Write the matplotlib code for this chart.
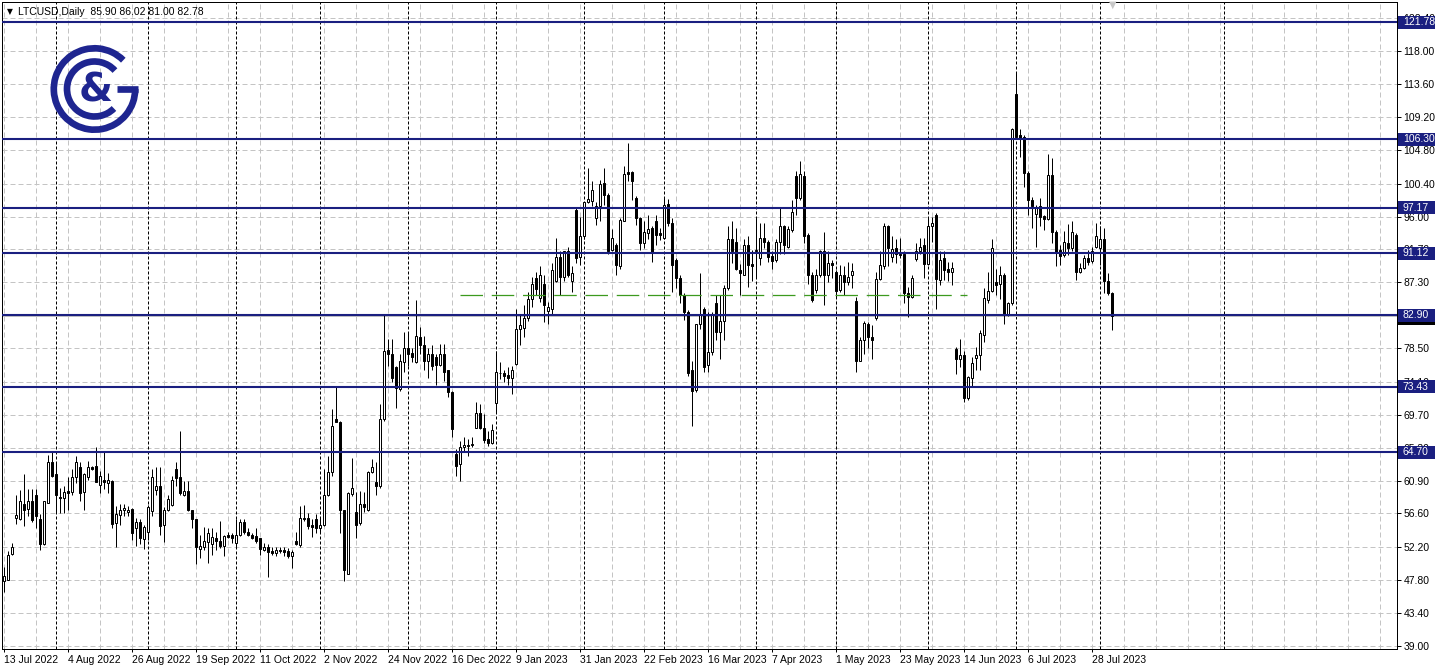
"""
plot.py

LTCUSD daily candles (MT4 style) with horizontal support/resistance levels.
"""

import numpy as np
import pandas as pd
import matplotlib
matplotlib.use("Agg")
import matplotlib.pyplot as plt
from matplotlib.patches import Rectangle, Arc

plt.rcParams["font.family"] = ["Liberation Sans Narrow", "Liberation Sans", "DejaVu Sans"]

# Figure geometry (pixels)

W, H = 1438, 669
NAVY = "#1a1f80"
LOGO = "#1e2590"
GRID = "#c4c4c4"
FS = 7.5

# Data

first_day = "2022-07-13"

opens = [
    47.6, 47.8, 51.2, 56.0, 55.9, 57.9, 57.2, 58.2, 59.0, 55.9,
    52.6, 58.0, 63.4, 61.8, 58.8, 58.6, 59.6, 59.4, 61.5, 62.8,
    59.4, 61.5, 62.7, 62.9, 60.4, 61.1, 60.6, 60.9, 55.3, 56.4,
    57.0, 56.8, 57.2, 54.6, 55.4, 53.2, 54.1, 56.9, 59.7, 60.2,
    55.0, 57.0, 57.7, 62.5, 61.4, 59.1, 59.6, 57.0, 55.9, 51.9,
    52.1, 52.8, 52.6, 53.4, 52.9, 52.3, 53.8, 53.8, 52.7, 53.8,
    55.5, 54.1, 53.8, 53.6, 53.3, 51.8, 52.2, 51.6, 51.4, 51.8,
    51.8, 51.6, 50.9, 53.0, 52.4, 56.0, 56.0, 55.1, 55.9, 54.7,
    55.0, 59.0, 62.1, 69.2, 68.8, 57.1, 48.6, 59.2, 56.8, 55.3,
    57.9, 57.1, 62.1, 60.8, 60.2, 69.1, 78.3, 77.8, 76.0, 73.1,
    76.7, 78.5, 77.9, 76.7, 80.0, 78.9, 76.9, 77.7, 77.4, 76.3,
    77.7, 75.6, 72.7, 64.5, 63.1, 65.4, 65.7, 65.7, 68.0, 69.9,
    68.0, 66.5, 66.0, 71.3, 75.3, 75.3, 75.0, 74.6, 76.5, 81.1,
    81.2, 82.5, 85.1, 87.9, 85.2, 87.1, 83.5, 83.8, 87.4, 90.7,
    88.0, 91.4, 87.4, 96.9, 90.6, 93.4, 98.0, 98.1, 95.8, 97.4,
    100.5, 98.9, 91.6, 92.2, 89.4, 95.4, 101.9, 101.9, 98.5, 95.8,
    92.5, 93.8, 94.5, 95.4, 93.8, 93.2, 97.7, 95.1, 90.2, 87.8,
    85.6, 83.4, 75.6, 73.0, 81.7, 83.8, 76.3, 78.0, 84.5, 80.7,
    82.2, 86.5, 93.1, 92.7, 88.9, 88.3, 92.2, 89.7, 91.4, 90.5,
    93.2, 92.6, 90.8, 90.2, 92.7, 94.8, 92.0, 94.2, 101.4, 98.5,
    101.4, 93.5, 88.3, 86.3, 88.2, 91.4, 88.2, 89.9, 88.7, 86.3,
    88.3, 87.3, 88.2, 84.8, 76.9, 79.6, 81.8, 80.0, 82.5, 87.7,
    89.4, 94.7, 90.7, 91.9, 91.1, 91.0, 85.8, 85.4, 90.4, 91.4,
    92.2, 89.7, 94.7, 96.2, 87.6, 90.5, 89.0, 88.6, 78.4, 77.1,
    77.6, 71.9, 74.6, 77.3, 77.6, 80.3, 84.9, 86.1, 87.3, 87.0,
    88.3, 83.0, 84.5, 112.3, 106.8, 106.6, 101.8, 98.2, 96.3, 97.4,
    96.1, 95.7, 101.5, 94.0, 91.6, 90.9, 92.5, 91.8, 93.6, 88.7,
    89.2, 90.5, 90.1, 92.0, 91.9, 93.1, 87.4, 85.90,
]
highs = [
    49.5, 51.6, 52.7, 59.1, 59.7, 61.8, 59.8, 59.8, 59.8, 56.5,
    58.3, 64.3, 64.7, 63.4, 60.0, 60.2, 61.4, 62.5, 64.2, 63.4,
    62.0, 63.6, 62.9, 65.4, 62.2, 64.7, 62.0, 61.1, 57.6, 57.8,
    57.8, 57.6, 57.3, 56.0, 55.8, 55.1, 57.7, 62.5, 62.7, 62.7,
    57.5, 59.1, 61.6, 63.4, 67.6, 60.9, 60.9, 57.1, 55.9, 53.8,
    54.8, 54.7, 54.7, 54.2, 55.6, 53.8, 54.2, 54.0, 55.8, 55.8,
    55.8, 54.7, 54.0, 54.6, 53.4, 52.7, 52.5, 52.2, 52.2, 52.2,
    52.2, 52.0, 51.8, 54.2, 57.6, 57.7, 56.7, 55.8, 56.5, 56.0,
    62.5, 64.2, 70.5, 73.4, 68.9, 57.1, 59.4, 64.0, 59.4, 59.6,
    59.5, 62.2, 63.8, 63.4, 71.1, 83.0, 79.8, 79.8, 76.2, 77.8,
    80.7, 80.7, 78.5, 84.9, 81.4, 80.2, 78.5, 78.9, 77.7, 79.1,
    79.1, 75.6, 72.8, 65.2, 66.2, 66.7, 66.5, 66.7, 71.4, 71.1,
    69.8, 67.6, 68.5, 78.2, 76.7, 75.6, 76.0, 76.2, 83.8, 83.0,
    84.3, 86.0, 88.0, 88.7, 89.4, 88.2, 84.7, 89.8, 93.2, 91.4,
    91.4, 92.0, 89.4, 97.1, 96.0, 98.0, 102.5, 100.8, 98.0, 100.9,
    102.5, 99.1, 94.3, 92.5, 95.8, 102.7, 105.8, 102.0, 98.8, 96.0,
    95.4, 96.2, 94.7, 96.2, 94.5, 98.5, 98.3, 95.8, 90.5, 88.2,
    85.8, 83.6, 76.9, 81.8, 88.5, 84.0, 83.4, 83.4, 85.6, 85.6,
    86.9, 94.7, 95.4, 94.5, 89.7, 93.1, 93.4, 91.6, 95.9, 95.1,
    95.1, 92.9, 91.4, 93.1, 97.1, 94.9, 94.7, 98.2, 102.0, 103.4,
    102.0, 93.8, 88.7, 89.1, 91.6, 94.0, 91.4, 90.2, 88.9, 89.6,
    89.4, 90.0, 89.8, 85.4, 80.0, 82.2, 82.0, 81.6, 88.7, 91.4,
    95.1, 94.9, 93.4, 93.1, 93.2, 91.4, 86.6, 88.3, 92.5, 93.2,
    93.2, 96.0, 95.9, 96.5, 91.4, 91.4, 90.0, 90.0, 78.7, 79.8,
    78.2, 74.9, 77.4, 78.7, 81.0, 86.5, 88.7, 93.1, 89.1, 89.4,
    88.5, 84.7, 107.8, 115.1, 107.6, 106.9, 102.0, 98.6, 97.6, 98.5,
    96.2, 104.3, 103.8, 94.2, 92.2, 94.1, 95.0, 95.4, 93.8, 89.8,
    90.9, 91.6, 92.0, 95.1, 94.7, 94.5, 88.5, 86.02,
]
lows = [
    46.2, 47.8, 51.1, 55.2, 55.7, 54.9, 56.2, 55.4, 54.7, 51.8,
    52.4, 58.0, 61.4, 56.6, 56.6, 56.6, 57.1, 59.1, 60.7, 58.2,
    57.1, 61.1, 62.3, 60.8, 59.3, 59.8, 59.3, 54.7, 52.2, 55.1,
    56.2, 56.2, 53.1, 52.3, 52.5, 51.9, 53.1, 56.2, 59.0, 53.8,
    52.8, 56.9, 57.6, 60.2, 59.0, 58.9, 56.9, 54.6, 49.9, 50.7,
    51.8, 50.0, 51.1, 51.7, 52.0, 50.9, 53.4, 52.7, 52.2, 53.6,
    53.9, 53.6, 53.2, 52.7, 51.1, 51.6, 48.2, 51.1, 51.0, 51.4,
    50.9, 50.7, 49.3, 52.4, 52.2, 55.6, 54.5, 53.5, 54.0, 54.0,
    54.9, 58.9, 61.6, 68.7, 54.0, 47.6, 48.5, 58.9, 53.4, 55.1,
    56.8, 56.9, 62.0, 59.1, 60.0, 68.9, 76.2, 74.0, 70.6, 72.9,
    75.4, 76.2, 76.7, 76.6, 77.7, 75.6, 74.6, 75.6, 73.7, 76.2,
    74.2, 72.0, 66.7, 61.6, 60.9, 64.9, 64.2, 65.4, 67.9, 67.8,
    66.0, 65.6, 65.8, 70.0, 74.5, 74.0, 73.6, 72.5, 76.3, 78.9,
    80.0, 82.2, 84.0, 85.6, 84.7, 82.0, 81.8, 83.1, 87.3, 85.6,
    87.4, 88.0, 86.0, 89.8, 89.6, 93.1, 97.8, 97.4, 94.9, 95.4,
    97.6, 91.1, 91.4, 88.2, 89.1, 95.4, 100.7, 98.2, 94.9, 91.6,
    91.8, 93.1, 90.0, 92.3, 92.9, 93.1, 94.8, 86.0, 86.5, 84.5,
    82.3, 74.9, 68.2, 72.7, 81.1, 75.4, 75.4, 77.6, 79.6, 77.1,
    79.6, 86.3, 89.8, 88.9, 85.6, 88.3, 86.7, 87.4, 87.8, 89.6,
    91.8, 90.0, 89.1, 90.0, 91.1, 91.1, 91.8, 94.0, 96.2, 98.2,
    92.5, 87.1, 84.7, 85.8, 88.0, 84.3, 87.3, 87.8, 85.4, 86.0,
    85.6, 86.9, 86.5, 75.4, 76.8, 77.8, 78.5, 77.1, 82.3, 87.6,
    89.1, 89.4, 90.0, 89.8, 90.5, 84.5, 82.7, 85.2, 90.1, 91.1,
    87.9, 89.6, 92.7, 83.8, 86.9, 87.6, 87.4, 86.9, 75.1, 76.0,
    71.4, 71.7, 73.4, 75.6, 75.6, 79.4, 84.5, 86.0, 85.6, 85.1,
    81.7, 82.8, 84.3, 106.5, 103.9, 100.0, 96.2, 94.5, 92.0, 94.7,
    94.2, 95.6, 92.5, 89.4, 89.6, 90.6, 90.9, 91.4, 87.6, 88.5,
    89.0, 89.6, 89.8, 91.8, 89.6, 85.8, 85.6, 81.00,
]
closes = [
    48.3, 51.1, 52.1, 56.4, 58.3, 57.0, 58.2, 55.7, 56.2, 52.6,
    58.3, 63.4, 61.6, 59.0, 58.6, 59.4, 59.3, 61.4, 63.4, 59.3,
    61.8, 62.7, 62.5, 60.8, 61.6, 60.8, 61.1, 55.2, 56.5, 57.0,
    57.3, 57.1, 54.0, 55.4, 53.4, 54.8, 57.4, 61.5, 60.2, 54.9,
    57.0, 58.5, 61.0, 61.3, 59.3, 59.6, 57.1, 55.9, 52.2, 52.3,
    52.9, 54.0, 53.5, 52.9, 52.3, 53.6, 53.5, 53.4, 53.8, 55.5,
    54.1, 53.8, 53.4, 52.9, 51.9, 52.2, 51.5, 51.4, 51.7, 51.6,
    51.5, 50.9, 51.5, 52.5, 56.0, 55.8, 54.9, 54.8, 54.7, 55.0,
    59.1, 62.1, 68.2, 68.7, 57.1, 49.1, 59.3, 60.0, 55.1, 57.8,
    57.5, 62.1, 62.8, 60.2, 69.1, 78.2, 77.7, 74.6, 73.2, 76.9,
    78.6, 77.8, 77.4, 80.2, 78.9, 76.9, 77.7, 76.2, 76.3, 77.7,
    75.4, 72.7, 67.8, 62.9, 65.4, 65.7, 65.5, 65.8, 69.9, 68.0,
    66.4, 66.0, 67.7, 75.4, 75.2, 74.9, 74.6, 75.7, 81.1, 81.6,
    82.5, 85.1, 87.0, 86.4, 88.3, 84.3, 84.0, 88.9, 90.7, 88.0,
    91.4, 88.3, 88.5, 90.5, 93.4, 98.0, 98.3, 99.6, 97.4, 100.3,
    98.9, 91.4, 93.2, 89.6, 95.6, 101.7, 101.7, 100.7, 95.8, 92.5,
    94.0, 94.3, 91.3, 93.5, 93.5, 97.6, 95.1, 89.6, 87.8, 85.6,
    83.4, 75.2, 72.9, 81.7, 82.9, 76.0, 78.0, 82.9, 80.7, 82.1,
    86.5, 93.1, 91.4, 89.1, 88.5, 92.2, 89.6, 89.5, 91.6, 93.2,
    92.6, 90.7, 90.1, 92.7, 94.8, 92.2, 94.4, 96.6, 98.5, 101.6,
    93.4, 88.3, 84.9, 88.2, 91.4, 88.2, 89.9, 89.6, 86.1, 88.2,
    87.3, 88.0, 88.8, 76.9, 79.6, 81.9, 80.0, 79.6, 87.7, 89.6,
    94.7, 91.8, 91.7, 91.1, 90.9, 85.8, 85.4, 87.9, 91.4, 92.0,
    89.7, 94.8, 95.1, 87.7, 90.2, 88.9, 88.6, 89.2, 77.1, 77.6,
    71.9, 74.7, 76.6, 77.6, 80.5, 85.2, 86.1, 91.9, 86.9, 88.2,
    83.0, 84.5, 107.6, 106.6, 106.5, 101.8, 98.2, 97.4, 97.2, 95.9,
    95.7, 101.5, 94.0, 91.3, 90.8, 92.6, 91.9, 93.9, 88.7, 89.2,
    90.5, 90.0, 91.4, 93.4, 93.1, 87.4, 85.8, 82.78,
]

# horizontal levels drawn on the chart
levels = [121.78, 106.30, 97.17, 91.12, 82.90, 73.43, 64.70]
bid_price = 82.78
green_level = 85.65
green_span = (114, 240.75)  # bar positions

# axis ticks
price_ticks = [39.00, 43.40, 47.80, 52.20, 56.60, 60.90, 65.30, 69.70, 74.10, 78.50,
               82.90, 87.30, 91.70, 96.00, 100.40, 104.80, 109.20, 113.60, 118.00, 122.40]
date_labels = ["13 Jul 2022", "4 Aug 2022", "26 Aug 2022", "19 Sep 2022", "11 Oct 2022",
               "2 Nov 2022", "24 Nov 2022", "16 Dec 2022", "9 Jan 2023", "31 Jan 2023",
               "22 Feb 2023", "16 Mar 2023", "7 Apr 2023", "1 May 2023", "23 May 2023",
               "14 Jun 2023", "6 Jul 2023", "28 Jul 2023"]

header = "LTCUSD,Daily  85.90 86.02 81.00 82.78"

n = len(opens)
assert n == len(highs) == len(lows) == len(closes) == 278

# Month separators (weekday bars) plus the one in the empty future area
dates = pd.bdate_range(first_day, periods=n)
month_starts = [i for i in range(1, n) if dates[i].month != dates[i - 1].month]
month_starts.append(month_starts[-1] + 31)

# Plot

fig = plt.figure(figsize=(W / 100, H / 100), dpi=100)
ax = fig.add_axes([2 / W, (H - 649) / H, 1395 / W, 647 / H])
ax.set_xlim(-0.5, 348.25)
ax.set_ylim(38.6, 124.5)

for v in price_ticks:
    ax.axhline(v, color=GRID, lw=0.72, ls=(0, (5, 3)), zorder=1)
for k in range(0, 348, 8):
    ax.axvline(k, color=GRID, lw=0.72, ls=(0, (5, 3)), zorder=1)
for i in month_starts:
    ax.axvline(i, color="black", lw=0.72, ls=(0, (3, 2)), zorder=1.5)

ax.axhline(bid_price, color=GRID, lw=0.72, zorder=2)

x = np.arange(n)
o, h, l, c = (np.array(a) for a in (opens, highs, lows, closes))
bull = c >= o
ax.vlines(x, l, h, color="black", lw=0.72, zorder=3)
ax.bar(x, np.abs(c - o), bottom=np.minimum(o, c), width=0.55,
       color=np.where(bull, "white", "black"), edgecolor="black",
       linewidth=0.72, zorder=4)

ax.hlines(green_level, *green_span, color="#3c9a1e", lw=0.9, ls=(0, (18, 7)), zorder=5)
for lv in levels:
    ax.axhline(lv, color=NAVY, lw=1.5, zorder=6)

# right price axis; level boxes are drawn over it, as on the terminal
ax.yaxis.tick_right()
ax.set_yticks(price_ticks)
ax.set_yticklabels([f"{v:.2f}" for v in price_ticks])
ax.tick_params(axis="y", length=3, width=0.72, pad=1.5, labelsize=FS)

ax.set_xticks(range(0, 16 * len(date_labels), 16))
ax.set_xticklabels(date_labels, ha="left")
ax.tick_params(axis="x", length=2.5, width=0.72, pad=1.5, labelsize=FS)

for s in ax.spines.values():
    s.set_linewidth(0.72)
    s.set_color("black")

# price labels on the axis: bid (black) under the level boxes (navy)
box_h = 13 / 7.532
ax.add_patch(Rectangle((348.6, bid_price - 0.25 - box_h / 2), 9.1, box_h, facecolor="black",
                       edgecolor="none", clip_on=False, zorder=9))
for lv in levels:
    ax.add_patch(Rectangle((348.6, lv - box_h / 2), 9.1, box_h, facecolor=NAVY,
                           edgecolor="none", clip_on=False, zorder=10))
    ax.text(349.7, lv, f"{lv:.2f}", color="white", fontsize=FS, va="center",
            ha="left", clip_on=False, zorder=11)

# header
fig.text(7 / W, 1 - 12 / H, "\u25bc", fontsize=5.5, va="center", family="DejaVu Sans")
fig.text(18 / W, 1 - 12 / H, header, fontsize=FS, va="center")
fig.text(1113 / W, 1 - 5 / H, "\u25bc", fontsize=7, va="center", ha="center",
         color="#c8c8c8", family="DejaVu Sans")

# logo
lax = fig.add_axes([40 / W, (H - 145) / H, 110 / W, 110 / H])
lax.set_xlim(40, 150)
lax.set_ylim(H - 145, H - 35)
lax.axis("off")
cx, cy = 94.5, H - 89
lax.add_patch(Arc((cx, cy), 81.4, 81.4, theta1=45, theta2=360, lw=4.8, color=LOGO))
lax.add_patch(Arc((cx, cy), 55, 55, theta1=42, theta2=315, lw=4.8, color=LOGO))
lax.plot([116.5, 138.3], [cy, cy], lw=4.8, color=LOGO, solid_capstyle="butt")
lax.text(95.5, cy - 2, "&", fontsize=28, fontweight="bold", ha="center", va="center",
         color=LOGO, family="DejaVu Sans")

fig.savefig("out.png", dpi=100)
